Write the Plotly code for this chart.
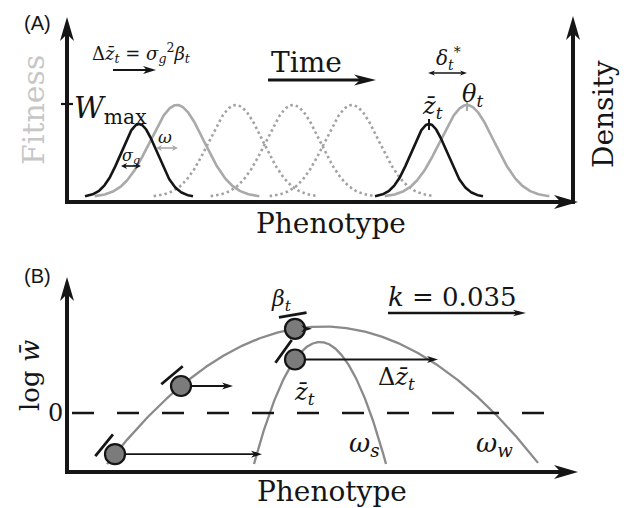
import math
import numpy as np
import plotly.graph_objects as go

W, H = 624, 508

# ---------------- Panel A data (schematic phenotype units = px scale) ----------------
A_base = 197                                   # zero-density baseline
opt_centers = [177, 236, 293, 352, 467]        # fitness optimum theta over time
opt_dash = ['solid', 'dot', 'dot', 'dot', 'solid']
opt_sd = 27                                    # omega (fitness width)
opt_height = 92                                # W_max
pop_centers = [139, 429]                       # mean phenotype z-bar
pop_sd = 18                                    # sigma_g
pop_height = 73

# ---------------- Panel B data ----------------
theta_w, peak_w, curv_w, span_w = 323, 326.5, 0.00295, (107, 538)   # weak selection curve
theta_s, peak_s, curv_s, span_s = 320, 342, 0.028, (254, 386)       # strong selection curve
zbar_path = [115, 181, 295]        # successive mean phenotypes on the wide curve
zbar_next = [262, 233, 312]        # positions after one step
zbar_s, zbar_s_next = 295, 438     # strong-selection step

BLACK = '#151515'
GREY = '#a9a9a9'
DGREY = '#8a8a8a'
SERIF = 'DejaVu Serif'

fig = go.Figure()
shapes = []


def line(x0, y0, x1, y1, lw, color=BLACK, dash=None):
    d = dict(type='line', xref='x', yref='y', x0=x0, y0=y0, x1=x1, y1=y1,
             line=dict(color=color, width=lw))
    if dash:
        d['line']['dash'] = dash
    shapes.append(d)


def arrow(x0, y0, x1, y1, lw, L, Wd, color=BLACK, both=False):
    dx, dy = x1 - x0, y1 - y0
    n = math.hypot(dx, dy)
    ux, uy = dx / n, dy / n
    px, py = -uy, ux

    def head(tx, ty, ux, uy):
        bx, by = tx - L * ux, ty - L * uy
        ix, iy = tx - 0.72 * L * ux, ty - 0.72 * L * uy
        path = (f"M{tx},{ty} L{bx + Wd / 2 * px},{by + Wd / 2 * py} "
                f"L{ix},{iy} L{bx - Wd / 2 * px},{by - Wd / 2 * py} Z")
        shapes.append(dict(type='path', xref='x', yref='y', path=path,
                           fillcolor=color, line=dict(width=0)))
        return tx - 0.5 * L * ux, ty - 0.5 * L * uy

    ex, ey = head(x1, y1, ux, uy)
    sx, sy = x0, y0
    if both:
        sx, sy = head(x0, y0, -ux, -uy)
    line(sx, sy, ex, ey, lw, color)


def gauss(mu, sd, h, k=3.05):
    x = np.linspace(mu - k * sd, mu + k * sd, 200)
    y = A_base - h * np.exp(-(x - mu) ** 2 / (2 * sd ** 2))
    return x, y


# ---------------- Panel A ----------------
for mu, ds in zip(opt_centers, opt_dash):
    if ds == 'dot':
        x, y = gauss(mu, opt_sd, opt_height)
        fig.add_trace(go.Scatter(x=x, y=y, mode='lines',
                                 line=dict(color='#a2a2a2', width=2.6, dash='2.5px,3px')))
for mu, ds in zip(opt_centers, opt_dash):
    if ds == 'solid':
        x, y = gauss(mu, opt_sd, opt_height)
        fig.add_trace(go.Scatter(x=x, y=y, mode='lines', line=dict(color=GREY, width=2.6)))
for mu in pop_centers:
    x, y = gauss(mu, pop_sd, pop_height, k=3.0)
    fig.add_trace(go.Scatter(x=x, y=y, mode='lines', line=dict(color=BLACK, width=2.6)))

# axes of panel A
arrow(67, 202, 67, 17, 4, 24, 14)
arrow(65, 202, 578, 202, 4, 24, 14)
arrow(573, 204, 573, 16, 4, 24, 14)
# W_max tick
line(61, 104, 73, 104, 2.2)
# peak ticks
line(pop_centers[1], A_base - pop_height - 5, pop_centers[1], A_base - pop_height + 6, 2)
line(opt_centers[-1], A_base - opt_height - 4, opt_centers[-1], A_base - opt_height + 6, 2, GREY)
# arrows in panel A
arrow(113, 70, 156, 70, 2.2, 13, 8)
arrow(268, 80, 376, 80, 3.2, 22, 11)
arrow(428, 73, 467, 73, 1.3, 7, 5, both=True)
arrow(156, 148, 178, 148, 1.6, 6, 6, color=GREY, both=True)
arrow(121, 166, 141, 166, 1.6, 6, 6, both=True)

# ---------------- Panel B ----------------
xw = np.linspace(span_w[0], span_w[1], 300)
fig.add_trace(go.Scatter(x=xw, y=peak_w + curv_w * (xw - theta_w) ** 2, mode='lines',
                         line=dict(color=DGREY, width=2.3)))
xs = np.linspace(span_s[0], span_s[1], 300)
fig.add_trace(go.Scatter(x=xs, y=peak_s + curv_s * (xs - theta_s) ** 2, mode='lines',
                         line=dict(color=DGREY, width=2.3)))

arrow(67, 473, 67, 277, 4, 24, 14)
arrow(65, 472, 578, 472, 4, 24, 14)
line(72, 413, 557, 413, 2.6, dash='22px,23px')

pts_x, pts_y, slopes = [], [], []
for z in zbar_path:
    pts_x.append(z)
    pts_y.append(peak_w + curv_w * (z - theta_w) ** 2)
    slopes.append(2 * curv_w * (z - theta_w))
pts_x.append(zbar_s)
pts_y.append(peak_s + curv_s * (zbar_s - theta_s) ** 2)
slopes.append(2 * curv_s * (zbar_s - theta_s))
nexts = zbar_next + [zbar_s_next]

R = 10
for x0, y0, nx in zip(pts_x, pts_y, nexts):
    arrow(x0 + R, y0, nx, y0, 1.8, 11, 7)

for x0, y0, m in zip(pts_x, pts_y, slopes):
    nrm = math.hypot(1, m)
    tx, ty = 1 / nrm, m / nrm
    ox, oy = m / nrm, -1 / nrm
    cx, cy = x0 + 14 * ox, y0 + 14 * oy
    line(cx - 14 * tx, cy - 14 * ty, cx + 14 * tx, cy + 14 * ty, 2.8)

fig.add_trace(go.Scatter(x=pts_x, y=pts_y, mode='markers',
                         marker=dict(size=20, color='#7b7b7b', line=dict(color=BLACK, width=2.2))))

arrow(388, 313, 526, 313, 2.6, 13, 6.5)

# ---------------- Text ----------------
ann = []


def txt(x, y, s, size, color=BLACK, family=SERIF, angle=0, xa='center'):
    ann.append(dict(x=x, y=y, xref='x', yref='y', text=s, showarrow=False,
                    xanchor=xa, yanchor='middle', textangle=angle,
                    font=dict(family=family, size=size, color=color)))


def it(s):
    return f'<i>{s}</i>'


def sub(s):
    return f'<sub>{s}</sub>'


txt(37, 23, '(A)', 20, family='Liberation Sans')
txt(37, 276, '(B)', 20, family='Liberation Sans')
txt(33, 110, 'Fitness', 30, color='#c6c6c6', angle=-90)
txt(603, 114, 'Density', 28, angle=-90)
txt(331, 223, 'Phenotype', 28)
txt(332, 491, 'Phenotype', 28)
txt(306, 62, 'Time', 28)
txt(141, 53, 'Δ' + it('z̄') + sub(it('t')) + ' = ' + it('σ') + sub(it('g')) + '<sup>2</sup>' + it('β') + sub(it('t')), 18)
txt(110, 110, it('W') + sub('max'), 29)
txt(165, 137, it('ω'), 17)
txt(131, 156, it('σ') + sub(it('g')), 16)
txt(448, 58, it('δ') + sub(it('t')) + '<sup>*</sup>', 20)
txt(472, 95, it('θ') + sub(it('t')), 24)
txt(432, 107, it('z̄') + sub(it('t')), 24)

txt(30, 376, 'log ' + it('w̄'), 26, angle=-90)
txt(55, 413, '0', 24)
txt(281, 300, it('β') + sub(it('t')), 22)
txt(304, 393, it('z̄') + sub(it('t')), 24)
txt(396, 378, 'Δ' + it('z̄') + sub(it('t')), 24)
txt(452, 297, it('k') + ' = 0.035', 26)
txt(364, 444, it('ω') + sub(it('s')), 26)
txt(494, 444, it('ω') + sub(it('w')), 26)

fig.update_layout(
    width=W, height=H, autosize=False,
    margin=dict(l=0, r=0, t=0, b=0),
    paper_bgcolor='white', plot_bgcolor='white',
    showlegend=False,
    xaxis=dict(range=[0, W], visible=False, fixedrange=True),
    yaxis=dict(range=[H, 0], visible=False, fixedrange=True),
    shapes=shapes, annotations=ann,
)
fig.write_html('out.html', config={'displayModeBar': False},
               post_script="document.body.style.margin='0';document.body.style.overflow='hidden';")
